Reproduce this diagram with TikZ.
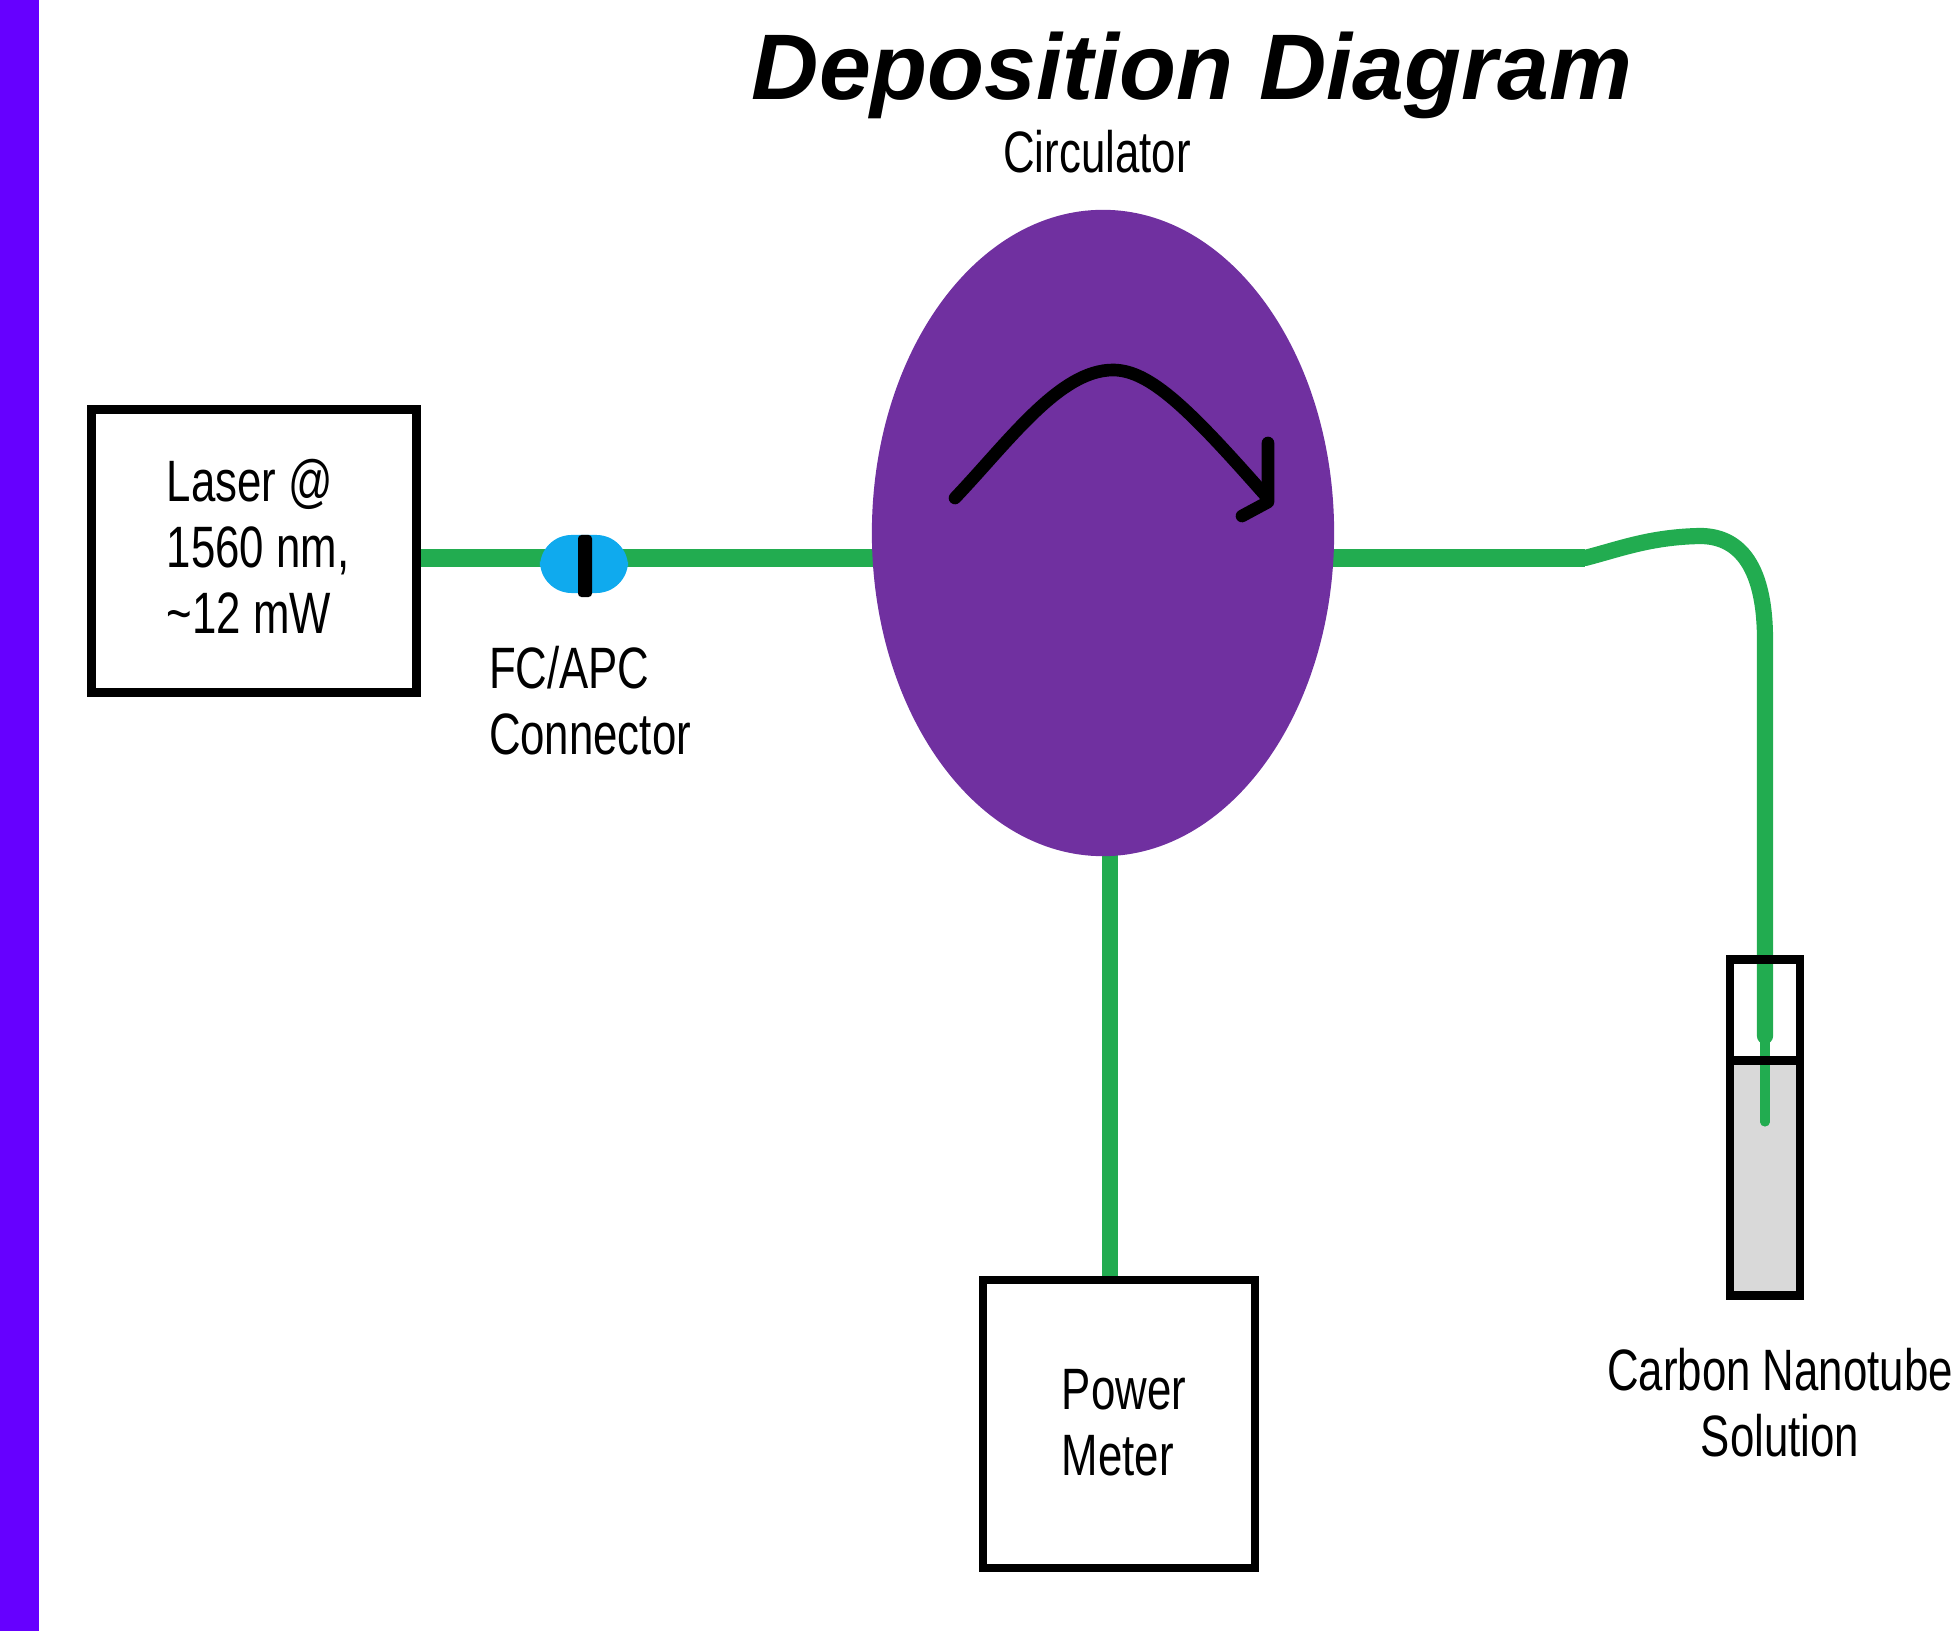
\documentclass[tikz,border=0pt]{standalone}
\usepackage{fontspec}
\usetikzlibrary{shapes.geometric,backgrounds}
\setmainfont{Liberation Sans}
\newfontfamily\labelfont[FakeStretch=0.75]{Liberation Sans}
\definecolor{bandviolet}{HTML}{6600FF}
\definecolor{circpurple}{HTML}{7030A0}
\definecolor{fibergreen}{HTML}{22AC50}
\definecolor{fcblue}{HTML}{0FAAEE}
\definecolor{vialgray}{HTML}{D9D9D9}
\tikzset{
  boxed/.style = {draw=black, line width=2.5pt, inner sep=0pt, outer sep=0pt},
  fiber/.style = {draw=fibergreen, line width=4.6pt},
  label/.style = {inner sep=0pt, align=left, font=\labelfont\fontsize{16.6}{18.8}\selectfont},
}

\begin{document}
\begin{tikzpicture}[x=0.01cm, y=-0.01cm]
\useasboundingbox (0,0) rectangle (1957,1631);
\fill[bandviolet] (0,0) rectangle (39,1631);

\node[inner sep=0pt, anchor=base, font=\bfseries\itshape\fontsize{26.5}{30}\selectfont] (title) at (1192,100) {Deposition Diagram};
\node[label] (circlabel) at (1097,152) {Circulator};

\node[ellipse, fill=circpurple, inner sep=0pt, minimum width=4.62cm, minimum height=6.46cm] (circulator) at (1103,533) {};
\node[boxed, minimum width=3.25cm, minimum height=2.83cm] (laser) at (254,551) {};
\node[label] (laserlabel) at (258,546) {Laser @\\1560 nm,\\\textasciitilde12 mW};
\node[boxed, minimum width=2.72cm, minimum height=2.88cm] (powermeter) at (1119,1424) {};
\node[label] (powerlabel) at (1124,1423) {Power\\Meter};

\node[fill=fcblue, rounded corners=9pt, inner sep=0pt, minimum width=0.88cm, minimum height=0.58cm] (fcapc) at (584,564) {};
\node[fill=black, rounded corners=1pt, inner sep=0pt, minimum width=0.14cm, minimum height=0.62cm] (fcbar) at (585,566) {};
\node[label] (fclabel) at (590,701) {FC/APC\\Connector};

\node[boxed, minimum width=0.70cm, minimum height=1.01cm] (vialtop) at (1765,1010) {};
\node[boxed, fill=vialgray, minimum width=0.70cm, minimum height=2.35cm] (vialbottom) at (1765,1178) {};
\node[label, align=center] (viallabel) at (1780,1403) {Carbon Nanotube\\Solution};

\coordinate (fiberline) at (0,558);
\coordinate (powerdrop) at (1110,700);
\coordinate (bend) at (1585,558);
\coordinate (fiberdown) at (1765,640);
\coordinate (fiberthin) at (1765,1036);
\coordinate (fibertip) at (1765,1122);

\begin{pgfonlayer}{background}
\draw[fiber, line width=5pt] (laser.east |- fiberline) -- (circulator |- fiberline);
\draw[fiber, line width=5pt] (circulator |- fiberline) -- (bend);
\draw[fiber] (powerdrop) -- (powerdrop |- powermeter.north);
\end{pgfonlayer}

\draw[fiber, line cap=round] (bend) .. controls (1620,549) and (1650,537) .. (1700,536) .. controls (1735,536) and (1765,560) .. (fiberdown) -- (fiberthin);
\draw[fiber, line width=2.6pt, line cap=round] (fiberthin) -- (fibertip);
\draw[black, line width=2.5pt] (vialtop.north west) -- (vialtop.north east);
\draw[black, line width=2.5pt] (vialbottom.north west) -- (vialbottom.north east);

\draw[black, line width=3.6pt, line cap=round, line join=round] (955,498) .. controls (1010,440) and (1060,370) .. (1113,370) .. controls (1150,370) and (1190,410) .. (1265,495);
\draw[black, line width=3.6pt, line cap=round, line join=round] (1268,443) -- (1268,502) -- (1242,516);
\end{tikzpicture}
\end{document}
